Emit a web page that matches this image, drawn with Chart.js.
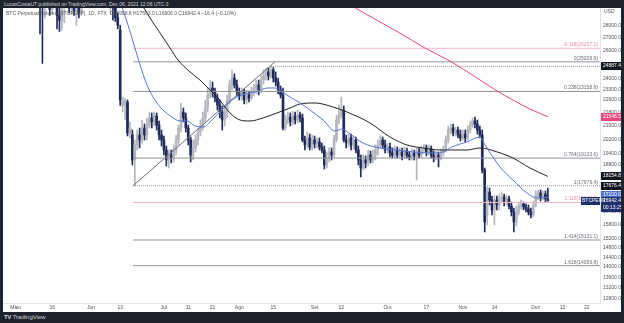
<!DOCTYPE html>
<html>
<head>
<meta charset="utf-8">
<title>BTC Perpetual Futures</title>
<script src="https://cdn.jsdelivr.net/npm/chart.js@4.4.1/dist/chart.umd.min.js"></script>
<style>
  html, body { margin: 0; padding: 0; }
  body { width: 624px; height: 323px; background: #1e222d; position: relative; overflow: hidden;
         font-family: "Liberation Sans", Arial, sans-serif; }
  #top { position: absolute; left: 4px; top: 1px; font-size: 5px; line-height: 6px; color: #d1d4dc; white-space: nowrap; }
  #panel { position: absolute; left: 3px; top: 8px; width: 618px; height: 304px; background: #fff; }
  #legend { position: absolute; left: 3px; top: 2px; font-size: 5px; color: #555; white-space: nowrap; z-index: 2; }
  #foot { position: absolute; left: 4px; top: 314px; font-size: 6px; line-height: 7px; color: #d1d4dc; white-space: nowrap; }
  #foot b { letter-spacing: -0.5px; margin-right: 2px; }
</style>
</head>
<body>
<div id="top">LucasCostaUT published on TradingView.com, Dec 06, 2021 12:06 UTC-3</div>
<div id="panel">
  <div id="legend">BTC Perpetual Futures (BTCPERP), 1D, FTX&nbsp; O16958.8 H17563.0 L16906.0 C16942.4 −16.4 (−0.10%)</div>
  <canvas id="chart" width="618" height="304"></canvas>
</div>
<div id="foot"><b>TV</b>TradingView</div>
<script>
// day 0 = 1 May 2021, one candle per day
const firstDay = -5;

const opens = [
  33800, 33200, 32800, 33100, 33900, 33500, 32900, 32200, 32700, 33300,
  32500, 31700, 32100, 31300, 30700, 31000, 29600, 29500, 30500, 31200,
  29300, 30200, 31000, 28800, 28400, 29800, 30500, 31200, 29400, 30000,
  29200, 29900, 29000, 30200, 31000, 31800, 31300, 32200, 31600, 32500,
  31800, 31000, 31500, 30600, 30100, 30600, 29800, 28600, 27600, 22214,
  22278, 22471, 20561, 20443, 19030, 19866, 20443, 20152, 20857, 20443,
  21037, 21464, 21220, 21587, 21037, 20443, 20152, 19583, 19030, 19305,
  19140, 19583, 20152, 20857, 21835, 21464, 20857, 20152, 19305, 19696,
  20152, 20619, 20917, 21464, 22087, 22926, 23391, 23124, 22730, 22278,
  21835, 21341, 21835, 22599, 23593, 24072, 23593, 23124, 22861, 23124,
  22599, 22926, 22730, 23124, 23391, 23593, 23256, 23933, 24279, 24489,
  24210, 24629, 24072, 23797, 23256, 22926, 20857, 21341, 21525, 21220,
  21587, 21341, 21648, 21464, 20152, 19866, 20268, 19753, 20152, 19923,
  20038, 19753, 19583, 18760, 19140, 19472, 19305, 20152, 21341, 21648,
  21960, 20152, 19980, 20268, 19866, 20152, 19583, 19030, 18599, 19030,
  18868, 19305, 19030, 19250, 19583, 19866, 20152, 19866, 19583, 19753,
  19416, 19305, 19583, 19305, 19472, 19250, 19527, 19305, 19195, 19416,
  19250, 19472, 19305, 19583, 19696, 19472, 19640, 19305, 19140, 19305,
  19140, 19416, 19583, 20152, 20737, 20857, 20561, 20737, 20443, 20268,
  20502, 20268, 20737, 21037, 21280, 21098, 20737, 20443, 18492, 16256,
  17363, 16969, 16490, 16969, 16728, 17067, 17116, 16873, 17018, 16680,
  16396, 15933, 16396, 16680, 16776, 16633, 16538, 16396, 16256, 16728,
  17214, 17313, 17067, 17264, 16958.8
];
const highs = [
  34500, 33900, 33500, 34200, 34600, 34100, 33400, 33000, 33600, 33800,
  32900, 32400, 32600, 31900, 31400, 31500, 31000, 31500, 32000, 31800,
  30800, 31800, 31500, 29500, 30300, 31000, 31800, 31700, 30600, 30600,
  30500, 30400, 30600, 31500, 32200, 32400, 32700, 32800, 33000, 33000,
  32300, 31900, 31800, 31000, 31000, 30900, 30100, 29000, 28000, 22795,
  22730, 22599, 21220, 20737, 20152, 20737, 20857, 21341, 21098, 21464,
  21835, 21773, 21835, 21773, 21280, 20737, 20385, 19809, 19583, 19583,
  19866, 20443, 21037, 22406, 22087, 21773, 21037, 20327, 20152, 20443,
  20857, 21341, 21835, 22599, 23391, 23933, 23797, 23391, 22992, 22599,
  22214, 22214, 22926, 23933, 24629, 24349, 23933, 23391, 23391, 23323,
  23256, 23190, 23458, 23661, 23933, 23933, 24279, 24629, 24750, 24771,
  24887.4, 24800, 24489, 24072, 23526, 23391, 21648, 21835, 21773, 21898,
  21835, 21960, 21835, 21710, 20385, 20619, 20502, 20443, 20385, 20268,
  20268, 19980, 19809, 19472, 19696, 19696, 20443, 21648, 22278, 22795,
  22214, 20443, 20502, 20502, 20385, 20327, 19809, 19305, 19305, 19250,
  19583, 19527, 19583, 19866, 20152, 20385, 20327, 20152, 19980, 19980,
  19696, 19809, 19753, 19696, 19696, 19753, 19696, 19472, 19640, 19583,
  19696, 19696, 19809, 19923, 19866, 19866, 19809, 19527, 19527, 19472,
  19640, 19809, 20385, 20977, 21098, 21098, 20917, 20917, 20737, 20737,
  20737, 20977, 21280, 21464, 21525, 21341, 20977, 20737, 18599, 17614,
  17563, 17165, 17165, 17165, 17264, 17363, 17264, 17214, 17165, 16873,
  16585, 16680, 16873, 16969, 16873, 16776, 16728, 16585, 16921, 17412,
  17462, 17462, 17412, 17412, 17563
];
const lows = [
  32900, 32400, 31900, 32700, 33200, 32600, 31800, 31500, 32100, 32200,
  31400, 30900, 31000, 30100, 29900, 27300, 25100, 28600, 29800, 28800,
  28900, 29700, 27700, 27500, 27600, 28200, 29800, 29000, 28900, 28800,
  28000, 28600, 28800, 29900, 30600, 30900, 31000, 31200, 31300, 31400,
  30600, 30500, 30000, 29700, 28900, 28400, 28300, 27700, 22250, 21835,
  21341, 20385, 20268, 18760, 17676, 19583, 19696, 19980, 20152, 20152,
  20857, 20857, 20977, 20737, 20152, 19809, 19305, 18706, 18599, 18868,
  18922, 19305, 19866, 20619, 21220, 20619, 19866, 18922, 19030, 19472,
  19866, 20385, 20737, 21220, 21835, 22730, 22795, 22471, 21960, 21464,
  20737, 20977, 21464, 22342, 23256, 23391, 22861, 22599, 22599, 22342,
  22342, 22471, 22599, 22861, 22992, 22926, 23058, 23661, 23933, 23933,
  24072, 23797, 23526, 22992, 22730, 20737, 20737, 21098, 20977, 21037,
  21098, 21159, 21220, 20038, 19583, 19696, 19583, 19583, 19696, 19696,
  19583, 19416, 18546, 18599, 18922, 19030, 19140, 20038, 21098, 21464,
  20038, 19696, 19753, 19583, 19640, 19416, 18760, 18125, 18492, 18599,
  18706, 18868, 18868, 19030, 19305, 19696, 19696, 19416, 19416, 19195,
  19140, 19140, 19140, 19140, 19030, 19085, 19140, 19030, 19030, 19030,
  17970, 19140, 19195, 19416, 19250, 19305, 19140, 18922, 19030, 18653,
  19030, 19250, 19472, 19980, 20502, 20385, 20385, 20268, 20095, 20152,
  20038, 20152, 20561, 20857, 20857, 20502, 20268, 18334, 15483, 15797,
  16728, 16256, 15797, 16490, 16490, 16825, 16680, 16728, 16538, 16210,
  15483, 15752, 16256, 16538, 16490, 16396, 16256, 16117, 16163, 16633,
  16969, 16921, 16969, 16873, 16906
];
const closes = [
  33200, 32800, 33100, 33900, 33500, 32900, 32200, 32700, 33300, 32500,
  31700, 32100, 31300, 30700, 31000, 29600, 29500, 30500, 31200, 29300,
  30200, 31000, 28800, 28400, 29800, 30500, 31200, 29400, 30000, 29200,
  29900, 29000, 30200, 31000, 31800, 31300, 32200, 31600, 32500, 31800,
  31000, 31500, 30600, 30100, 30600, 29800, 28600, 28000, 22600, 22599,
  22471, 20561, 20857, 19030, 19866, 20443, 20152, 20857, 20443, 21037,
  21464, 21220, 21587, 21037, 20443, 20152, 19583, 19030, 19305, 19140,
  19583, 20152, 20857, 21835, 21464, 20857, 20152, 19305, 19696, 20152,
  20619, 20917, 21464, 22087, 22926, 23391, 23124, 22730, 22278, 21835,
  21341, 21835, 22599, 23593, 24072, 23593, 23124, 22861, 23124, 22599,
  22926, 22730, 23124, 23391, 23593, 23256, 23933, 24279, 24489, 24210,
  24629, 24072, 23797, 23256, 22926, 20857, 21341, 21525, 21220, 21587,
  21341, 21648, 21464, 20152, 19866, 20268, 19753, 20152, 19923, 20038,
  19753, 19583, 18760, 19140, 19472, 19305, 20152, 21341, 21648, 21960,
  20152, 19980, 20268, 19866, 20152, 19583, 19030, 18599, 19030, 18868,
  19305, 19030, 19250, 19583, 19866, 20152, 19866, 19583, 19753, 19416,
  19305, 19583, 19305, 19472, 19250, 19527, 19305, 19195, 19416, 19250,
  19472, 19305, 19583, 19696, 19472, 19640, 19305, 19140, 19305, 19140,
  19416, 19583, 20152, 20737, 20857, 20561, 20737, 20443, 20268, 20502,
  20268, 20737, 21037, 21280, 21098, 20737, 20443, 18492, 15933, 17363,
  16969, 16490, 16969, 16728, 17067, 17116, 16873, 17018, 16680, 16396,
  15933, 16396, 16680, 16776, 16633, 16538, 16396, 16256, 16728, 17214,
  17313, 17067, 17264, 17018, 16942.4
];

// moving averages (day, price)
const ma20Days = [42, 46.2, 48.7, 51.2, 54, 57.3, 60.6, 64.3, 67.6, 70.5, 73.8, 77.1, 80.8, 84.9, 89, 93.1, 98.5, 103.8, 106.7, 109.6, 112.9, 117, 121.1, 126.5, 131.4, 134.3, 137.6, 142.9, 149.9, 156.9, 163.5, 170.5, 175.8, 179.5, 185.7, 191.1, 193.1, 196.4, 199.3, 204.6, 210.4, 214.5, 219];
const ma20Values = [30530, 28016, 26455, 24984, 23593, 22599, 21960, 21525, 21280, 21280, 20977, 20917, 21341, 21960, 22599, 22926, 23124, 23391, 23391, 23124, 22795, 22406, 21960, 21341, 20678, 20797, 20502, 19980, 19696, 19583, 19472, 19416, 19472, 19753, 20038, 20327, 19866, 19195, 18653, 17970, 17313, 17067, 17100];
const ma50Days = [49.5, 55.3, 59.4, 63.5, 66.8, 71.7, 75.8, 80, 82.9, 88.2, 92.3, 96.4, 101.8, 107.5, 112.9, 117, 123.2, 129.3, 136.3, 145.8, 154, 161, 167.6, 174.6, 185.7, 191.1, 198.1, 204.6, 211.6, 219];
const ma50Values = [30530, 28585, 27380, 26230, 25343, 24489, 23933, 23256, 22795, 21773, 21341, 21280, 21464, 21773, 22087, 22342, 22406, 22214, 21835, 21159, 20327, 19866, 19696, 19583, 19583, 19696, 19472, 19140, 18599, 18154.8];
const ma200Days = [137.6, 149.9, 158.1, 168.4, 178.7, 189.8, 198.1, 204.6, 211.6, 219];
const ma200Values = [29668, 28260, 27380, 26230, 25270, 24072, 23190, 22599, 22024, 21546.5];

// fibonacci levels and drawings
const fibRatios = ['-0.118', '0', '0.236', '0.764', '1', '1.118', '1.414', '1.618'];
const fibPrices = [26207.1, 25209.9, 23158.9, 19133.6, 17676.4, 16848.6, 15131.1, 14056.8];
const fibStartDay = 48.3;
const trendDays = [48.3, 106.7];
const trendPrices = [17676.4, 25209.9];
const augHighDay = 105;
const augHigh = 24887.4;

// axes
const tickDays = [0, 15, 31, 43, 61, 71, 81, 92, 106, 123, 134, 153, 169, 184, 197, 214, 225, 235];
const tickLabels = ['Maio', '16', 'Jun', '13', 'Jul', '11', '21', 'Ago', '15', 'Set', '12', 'Out', '17', 'Nov', '14', 'Dez', '12', '22'];
const priceTicks = [28000, 27000, 26000, 25000, 24000, 23300, 22600, 21800, 21000, 20200, 19400, 18800, 18200, 17600, 17000, 16400, 15800, 15200, 14800, 14400, 14000, 13600, 13200, 12800];
const xMin = -5.23, xMax = 240.45;
const yMin = 12632, yMax = 29415;

const lastPrice = closes[closes.length - 1];
const upColor = '#b4b6bd', downColor = '#1f2a5c';
const FONT = '"Liberation Sans", Arial, sans-serif';

const days = opens.map((_, i) => firstDay + i);
const candleColors = opens.map((o, i) => closes[i] >= o ? upColor : downColor);

const lineSet = (data, color, extra) => Object.assign({
  type: 'line', data, borderColor: color, borderWidth: 1, pointRadius: 0,
  fill: false, clip: 0, order: 1
}, extra || {});

const pinkFibs = ['-0.118', '1.118'];
const fibSets = fibPrices.map((p, i) => lineSet(
  [{ x: fibStartDay, y: p }, { x: xMax, y: p }],
  pinkFibs.includes(fibRatios[i]) ? '#f5b3c4' : '#8f929b',
  { borderDash: fibRatios[i] === '1' ? [1, 1] : [], order: 3 }
));

const overlay = {
  id: 'overlay',
  afterDatasetsDraw(chart) {
    const { ctx, chartArea: a, scales: { y } } = chart;
    ctx.save();
    ctx.font = '5px ' + FONT;
    ctx.textAlign = 'right';
    ctx.textBaseline = 'bottom';
    fibPrices.forEach((p, i) => {
      ctx.fillStyle = pinkFibs.includes(fibRatios[i]) ? '#ee8aa6' : '#6a6d78';
      ctx.fillText(fibRatios[i] + '(' + p.toFixed(1) + ')', a.right - 2, y.getPixelForValue(p) - 1);
    });
    ctx.restore();
  },
  afterDraw(chart) {
    const { ctx, chartArea: a, scales: { y } } = chart;
    ctx.save();
    ctx.font = '5px ' + FONT;
    ctx.textBaseline = 'middle';
    ctx.textAlign = 'left';
    const box = (value, lines, bg) => {
      const py = Math.round(y.getPixelForValue(value));
      const h = 7 * lines.length + 1;
      ctx.fillStyle = bg;
      ctx.fillRect(a.right + 1, py - 4, 20, h);
      ctx.fillStyle = '#fff';
      lines.forEach((t, k) => ctx.fillText(t, a.right + 3, py + k * 7));
    };
    box(augHigh, [augHigh.toFixed(1)], '#131722');
    box(ma200Values[ma200Values.length - 1], [ma200Values[ma200Values.length - 1].toFixed(1)], '#e84a7f');
    box(ma50Values[ma50Values.length - 1], [ma50Values[ma50Values.length - 1].toFixed(1)], '#131722');
    box(fibPrices[4], [fibPrices[4].toFixed(1)], '#131722');
    box(ma20Values[ma20Values.length - 1] + 120, [ma20Values[ma20Values.length - 1].toFixed(1)], '#4f6fd1');
    box(lastPrice, [lastPrice.toFixed(1), '00:13:25'], '#1e2f6e');
    // symbol tag beside the axis
    const py = Math.round(y.getPixelForValue(lastPrice));
    ctx.fillStyle = '#1e2f6e';
    ctx.fillRect(a.right - 19, py - 4, 19, 8);
    ctx.fillStyle = '#fff';
    ctx.fillText('BTCPERP', a.right - 18, py);
    ctx.fillStyle = '#50535e';
    ctx.fillText('USD', a.right + 4, 4);
    ctx.restore();
  }
};

new Chart(document.getElementById('chart').getContext('2d'), {
  data: {
    datasets: [
      {
        type: 'bar', label: 'wick', order: 6, grouped: false, clip: 0,
        data: days.map((d, i) => ({ x: d, y: [lows[i], highs[i]] })),
        backgroundColor: candleColors, barThickness: 1
      },
      {
        type: 'bar', label: 'body', order: 5, grouped: false, clip: 0,
        data: days.map((d, i) => ({ x: d, y: [opens[i], closes[i]] })),
        backgroundColor: candleColors, barThickness: 2, minBarLength: 1
      },
      ...fibSets,
      lineSet(trendDays.map((d, i) => ({ x: d, y: trendPrices[i] })), '#6a6d78', { order: 3 }),
      lineSet([{ x: augHighDay, y: augHigh }, { x: xMax, y: augHigh }], '#8f929b', { borderDash: [1, 1], order: 3 }),
      lineSet(ma20Days.map((d, i) => ({ x: d, y: ma20Values[i] })), '#5477d4', { cubicInterpolationMode: 'monotone' }),
      lineSet(ma50Days.map((d, i) => ({ x: d, y: ma50Values[i] })), '#222222', { cubicInterpolationMode: 'monotone' }),
      lineSet(ma200Days.map((d, i) => ({ x: d, y: ma200Values[i] })), '#e0457b', { cubicInterpolationMode: 'monotone' })
    ]
  },
  options: {
    responsive: false,
    animation: false,
    layout: { padding: 0, autoPadding: false },
    plugins: { legend: { display: false }, tooltip: { enabled: false } },
    scales: {
      x: {
        type: 'linear', min: xMin, max: xMax, offset: false,
        grid: { display: false, drawTicks: false, offset: false },
        border: { display: true, color: '#e0e3eb' },
        ticks: {
          font: { size: 5, family: FONT }, color: '#50535e', padding: 2,
          maxRotation: 0, autoSkip: false,
          callback: (v, i) => tickLabels[i]
        },
        afterBuildTicks: s => { s.ticks = tickDays.map(v => ({ value: v })); },
        afterFit: s => { s.height = 9; s.paddingLeft = 0; s.paddingRight = 0; }
      },
      y: {
        type: 'logarithmic', position: 'right', min: yMin, max: yMax,
        grid: { display: false, drawTicks: false },
        border: { display: true, color: '#e0e3eb' },
        ticks: {
          font: { size: 5, family: FONT }, color: '#50535e', padding: 3,
          callback: v => Number(v).toFixed(1)
        },
        afterBuildTicks: s => { s.ticks = priceTicks.map(v => ({ value: v })); },
        afterFit: s => { s.width = 21; s.paddingTop = 0; s.paddingBottom = 0; }
      }
    }
  },
  plugins: [overlay]
});
</script>
</body>
</html>
